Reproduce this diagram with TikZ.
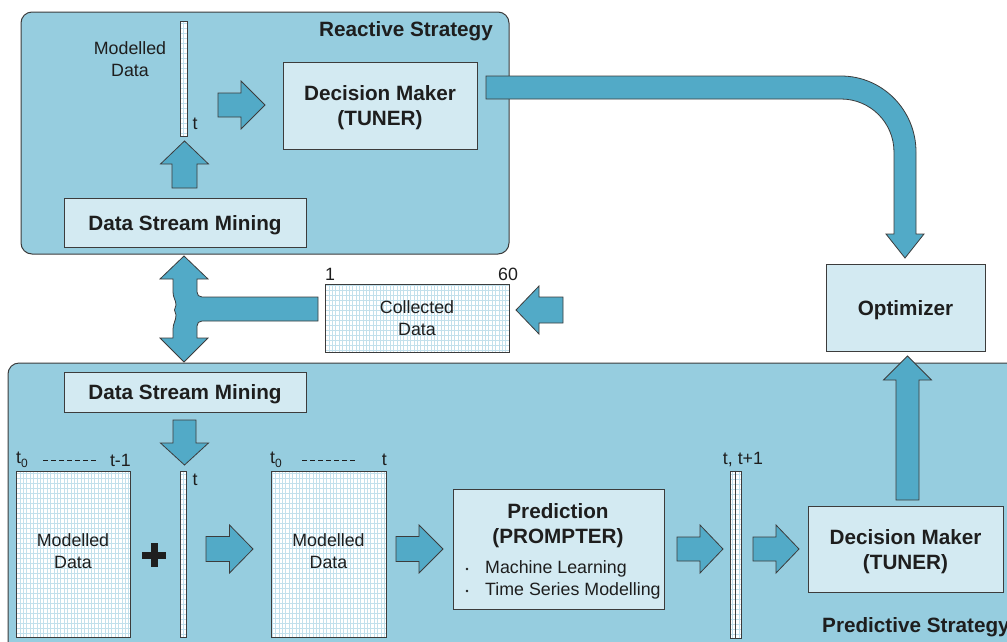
\documentclass[tikz,border=0pt]{standalone}
\usepackage{fontspec}
\setmainfont{Liberation Sans}
\usetikzlibrary{calc}

\definecolor{panelblue}{HTML}{96CDDF}
\definecolor{boxfill}{HTML}{D3EAF2}
\definecolor{arrowfill}{HTML}{52AAC7}
\definecolor{edge}{HTML}{3C3C3C}
\definecolor{gridblue}{HTML}{C2E0EC}
\definecolor{ink}{HTML}{1E1E1E}

\newcommand\boldfont{\fontsize{20.7}{25}\selectfont\bfseries}
\newcommand\plainfont{\fontsize{17.8}{22}\selectfont}
\newcommand\subzero{\raisebox{-4pt}{\fontsize{12}{12}\selectfont 0}}

% horizontal block arrow: tail x, tip x, centre y, signed head length, shaft half width
\newcommand\hblock[5]{%
  \draw[blockarrow] (#1,{#3-#5}) -- ({#2-(#4)},{#3-#5}) -- ({#2-(#4)},{#3-24})
    -- (#2,#3) -- ({#2-(#4)},{#3+24}) -- ({#2-(#4)},{#3+#5}) -- (#1,{#3+#5}) -- cycle;}
% vertical block arrow: tail y, tip y, centre x, signed head length, shaft half width
\newcommand\vblock[5]{%
  \draw[blockarrow] ({#3-#5},#1) -- ({#3-#5},{#2-(#4)}) -- ({#3-24},{#2-(#4)})
    -- (#3,#2) -- ({#3+24},{#2-(#4)}) -- ({#3+#5},{#2-(#4)}) -- ({#3+#5},#1) -- cycle;}

\tikzset{
  panel/.style={draw=edge, line width=1pt, fill=panelblue, rounded corners=11pt},
  procbox/.style={draw=edge, line width=0.9pt, fill=boxfill, inner sep=0pt,
    font=\boldfont, text=ink, align=center, text depth=-1.7pt},
  gridbox/.style={draw=edge, line width=0.8pt, fill=white, inner sep=0pt,
    font=\plainfont, text=ink, align=center,
    path picture={\draw[gridblue, line width=0.5pt]
      (path picture bounding box.south west) grid[xstep=3.4pt,ystep=5pt]
      (path picture bounding box.north east);}},
  blockarrow/.style={draw=edge, line width=0.8pt, fill=arrowfill, line join=miter},
  lbl/.style={font=\plainfont, text=ink, inner sep=0pt},
  dashline/.style={draw=ink, line width=0.8pt, dash pattern=on 5pt off 3pt},
}

\begin{document}
\begin{tikzpicture}[x=1pt, y=-1pt]
\useasboundingbox (0,0) rectangle (1007,641);
\clip (0,0) rectangle (1007,641);
\fill[white] (0,0) rectangle (1007,641);

% ---------- reactive strategy ----------
\draw[panel] (21,12) rectangle (509,254);
\node[lbl, font=\boldfont] (rtitle) at (406,31) {Reactive Strategy};
\node[lbl, align=center] (mdtop) at (130,59) {Modelled\\Data};
\node[gridbox, minimum width=7, minimum height=115] (bar0) at (183.5,78.5) {};
\node[lbl] (ttop) at (195,124) {t};
\node[procbox, minimum width=194, minimum height=87] (dm1) at (380,105.5) {Decision Maker\\(TUNER)};
\node[procbox, minimum width=242, minimum height=49] (dsm1) at (185,222.5) {Data Stream Mining};

\hblock{218}{265}{105}{24}{12}
\vblock{188}{141}{184.5}{-23}{12.5}

% ---------- predictive strategy ----------
\draw[panel] (8,363) rectangle (1040,680);
\node[procbox, minimum width=242, minimum height=40] (dsm2) at (185,392) {Data Stream Mining};
\vblock{420}{465}{184.5}{22}{11.5}

% history window
\node[gridbox, minimum width=114, minimum height=166, text depth=6pt] (md1) at (73,554) {Modelled\\Data};
\node[lbl, anchor=west] (l0) at (16,460) {t\subzero};
\node[lbl, anchor=east] (l1) at (131,460) {t-1};
\draw[dashline] (43,460) -- (97,460);

% plus sign
\fill[ink] (142,551.5) rectangle (166,558.5);
\fill[ink] (150.5,543) rectangle (157.5,567);

% newest column
\node[gridbox, minimum width=6, minimum height=166] (bar1) at (183,554) {};
\node[lbl] (tnew) at (195,480) {t};

\hblock{206}{253}{549}{23.5}{12.5}

% updated window
\node[gridbox, minimum width=115, minimum height=166, text depth=6pt] (md2) at (328.5,554) {Modelled\\Data};
\node[lbl, anchor=west] (m0) at (270,460) {t\subzero};
\node[lbl, anchor=east] (m1) at (387,460) {t};
\draw[dashline] (302,460) -- (355,460);

\hblock{396}{443}{549}{24}{12.5}

% prediction
\node[procbox, minimum width=211, minimum height=120] (pred) at (558.5,549) {};
\node[lbl, font=\boldfont, align=center] (predtxt) at (558,526) {Prediction\\(PROMPTER)};
\node[lbl, anchor=west] (ml) at (485,569) {Machine Learning};
\node[lbl, anchor=west] (ts) at (485,591) {Time Series Modelling};
\fill[ink] (467,569) circle (1.3);
\fill[ink] (467,591) circle (1.3);

\hblock{677}{723}{549}{23}{12}

% predicted columns
\node[gridbox, minimum width=11, minimum height=167] (bar2) at (735.5,554.5) {};
\draw[edge, line width=0.8pt] (bar2.north) -- (bar2.south);
\node[lbl] (tt1) at (743,460) {t, t+1};

\hblock{753}{799}{549}{23}{12}

\node[procbox, minimum width=195, minimum height=86] (dm2) at (905.5,549) {Decision Maker\\(TUNER)};
\node[lbl, font=\boldfont, anchor=west] (ptitle) at (822,627) {Predictive Strategy};

% ---------- shared parts ----------
\node[gridbox, minimum width=184, minimum height=68] (coll) at (417,318) {Collected\\Data};
\node[lbl] (c1) at (330,274) {1};
\node[lbl] (c60) at (508,274) {60};
\hblock{563}{516}{310}{-23}{13}

\node[procbox, minimum width=159, minimum height=87] (opt) at (905.5,307.5) {Optimizer};
\vblock{500}{356}{907.5}{-24}{11.5}

% reactive decision to optimizer
\draw[blockarrow] (486,76) -- (841,76) .. controls (882.4,76) and (916,110) .. (916,152)
  -- (916,234) -- (924,234) -- (905,258) -- (886,234) -- (894,234) -- (894,152)
  .. controls (894,122.7) and (870.3,99) .. (841,99) -- (486,99) -- cycle;

% collected data feeding both mining stages
\draw[blockarrow] (184,256) -- (208,279) -- (197,279) -- (197,292)
  .. controls (197,295) and (199,297) .. (202,297) -- (318,297) -- (318,321) -- (202,321)
  .. controls (199,321) and (197,323) .. (197,326) -- (197,338) -- (208,338) -- (184,362)
  -- (160,338) -- (173,338) -- (173,329) .. controls (173,323) and (176,321) .. (176,315)
  -- (174.5,310) -- (176,305) .. controls (176,300) and (173,298) .. (173,292)
  -- (173,279) -- (160,279) -- cycle;
\end{tikzpicture}
\end{document}
